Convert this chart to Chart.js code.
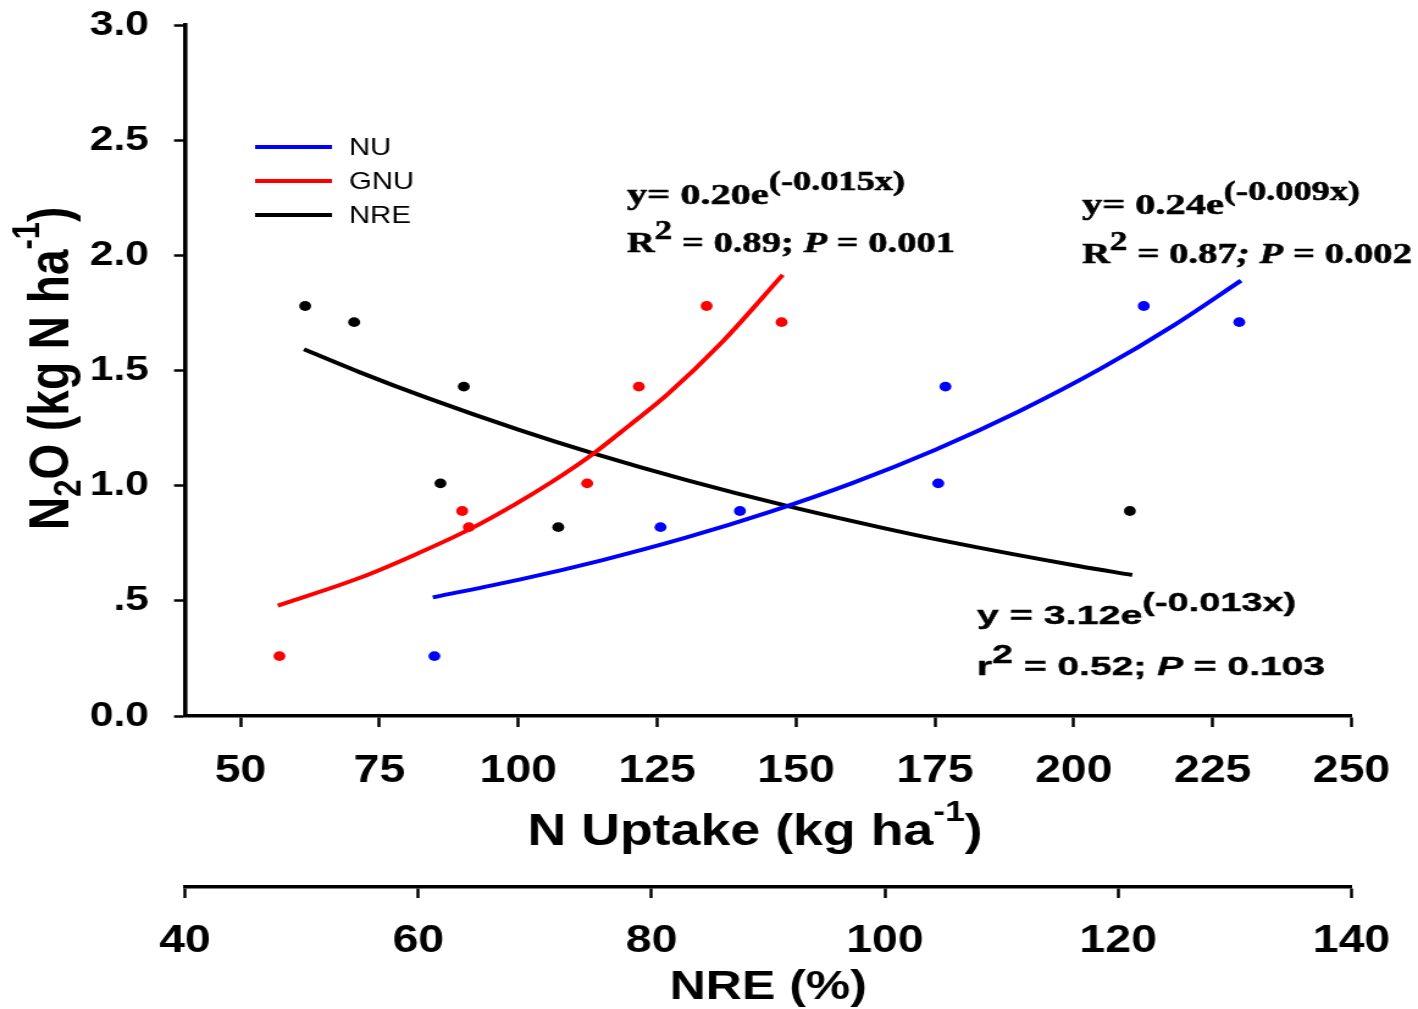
<!DOCTYPE html>
<html>
<head>
<meta charset="utf-8">
<script src="https://cdn.jsdelivr.net/npm/chart.js@4.4.1/dist/chart.umd.min.js"></script>
<style>
  html, body { margin: 0; padding: 0; background: #fff; overflow: hidden; }
  /* the figure is laid out on a narrower canvas and widened horizontally */
  #wrap { position: absolute; left: 0; top: 0; width: 1162px; height: 1009px;
          transform: scaleX(1.22031); transform-origin: 0 0; }
</style>
</head>
<body>
<div id="wrap"><canvas id="c"></canvas></div>
<script>
// ---- axis ticks ----
const nuTicks = [50, 75, 100, 125, 150, 175, 200, 225, 250];
const nreTicks = [40, 60, 80, 100, 120, 140];
const yTicks = [0, 0.5, 1.0, 1.5, 2.0, 2.5, 3.0];
const yTickLabels = ['0.0', '.5', '1.0', '1.5', '2.0', '2.5', '3.0'];

// ---- observations: N uptake (kg ha-1), grain N uptake, NRE (%) vs N2O ----
const nuUptake = [84.9, 125.6, 139.9, 175.6, 176.9, 212.6, 229.8];
const nuN2O    = [0.26, 0.82, 0.89, 1.01, 1.43, 1.78, 1.71];
const gnuUptake = [57.0, 91.1, 89.9, 112.4, 121.7, 133.9, 147.4];
const gnuN2O    = [0.26, 0.82, 0.89, 1.01, 1.43, 1.78, 1.71];
const nreValues = [50.3, 54.5, 63.9, 61.9, 72.0, 121.0];
const nreN2O    = [1.78, 1.71, 1.43, 1.01, 0.82, 0.89];

// ---- fitted exponential curves ----
const nuFitX = [84.6, 100, 115, 130, 145, 160, 175, 190, 205, 218, 230.1];
const nuFitY = [0.515, 0.591, 0.676, 0.773, 0.884, 1.010, 1.155, 1.321, 1.510, 1.696, 1.890];
const gnuFitX = [56.7, 71.5, 81.0, 91.1, 99.4, 106.0, 113.5, 120.0, 126.7, 136.4, 147.6];
const gnuFitY = [0.479, 0.600, 0.696, 0.809, 0.919, 1.016, 1.139, 1.262, 1.393, 1.616, 1.915];
const nreFitX = [50.2, 55.0, 60.7, 68.7, 75.0, 83.0, 91.6, 99.6, 105.3, 116.7, 121.2];
const nreFitY = [1.592, 1.492, 1.382, 1.241, 1.140, 1.024, 0.912, 0.819, 0.758, 0.650, 0.612];

const seriesNames = ['NU', 'GNU', 'NRE'];
const seriesColors = ['#0000ff', '#ff0000', '#000000'];

const SX = 1418 / 1162;          // horizontal widening of the canvas
const cx = v => v / SX;          // page x -> canvas x

const pts = (xs, ys) => xs.map((x, i) => ({ x, y: ys[i] }));

const SANS = '"Liberation Sans", Arial, Helvetica, sans-serif';
const SERIF = '"Liberation Serif", "Times New Roman", serif';

// draw a run of text pieces (super/subscripts via dy), optionally fitted to a width
function drawRuns(ctx, runs, x, y, width, align, weight) {
  let nat = 0;
  for (const r of runs) { ctx.font = r.font; nat += ctx.measureText(r.t).width; }
  const k = width ? width / nat : 1;
  ctx.save();
  ctx.translate(align === 'center' ? x - nat * k / 2 : x, y);
  ctx.scale(k, 1);
  let p = 0;
  for (const r of runs) {
    ctx.font = r.font;
    ctx.fillText(r.t, p, r.dy || 0);
    if (weight) {
      ctx.lineWidth = weight;
      ctx.strokeStyle = ctx.fillStyle;
      ctx.strokeText(r.t, p, r.dy || 0);
    }
    p += ctx.measureText(r.t).width;
  }
  ctx.restore();
}

const annotations = {
  id: 'annotations',
  afterDraw(chart) {
    const ctx = chart.ctx;
    ctx.save();
    ctx.fillStyle = '#000';
    ctx.textBaseline = 'alphabetic';
    ctx.textAlign = 'left';
    ctx.lineJoin = 'round';

    // y-axis title, rotated
    ctx.save();
    ctx.translate(cx(68), 530);
    ctx.rotate(-Math.PI / 2);
    drawRuns(ctx, [
      { t: 'N', font: `bold 46px ${SANS}` },
      { t: '2', font: `bold 31px ${SANS}`, dy: 10 },
      { t: 'O (kg N ha', font: `bold 46px ${SANS}` },
      { t: '-1', font: `bold 31px ${SANS}`, dy: -24 },
      { t: ')', font: `bold 46px ${SANS}` }
    ], 0, 0, 0);
    ctx.restore();

    // N uptake axis title
    drawRuns(ctx, [
      { t: 'N Uptake (kg ha', font: `bold 44px ${SANS}` },
      { t: '-1', font: `bold 29px ${SANS}`, dy: -24 },
      { t: ')', font: `bold 44px ${SANS}` }
    ], cx(755), 845, 0, 'center');

    // legend
    chart.data.datasets.filter(d => d.isFit).forEach((d, i) => {
      const y = 147 + i * 34;
      ctx.strokeStyle = d.borderColor;
      ctx.lineWidth = 4;
      ctx.beginPath();
      ctx.moveTo(cx(255), y);
      ctx.lineTo(cx(332), y);
      ctx.stroke();
      ctx.font = `24px ${SANS}`;
      ctx.textBaseline = 'middle';
      ctx.fillText(d.label, cx(349), y + 1);
      ctx.textBaseline = 'alphabetic';
    });

    // regression equations
    const s30 = `bold 30px ${SERIF}`, s27 = `bold 27px ${SERIF}`, si30 = `italic bold 30px ${SERIF}`;
    drawRuns(ctx, [{ t: 'y= 0.20e', font: s30 }, { t: '(-0.015x)', font: s27, dy: -14 }],
      cx(627), 204, cx(905) - cx(627), null, 0.6);
    drawRuns(ctx, [{ t: 'R', font: s30 }, { t: '2', font: s27, dy: -13 }, { t: ' = 0.89; ', font: s30 },
      { t: 'P', font: si30 }, { t: ' = 0.001', font: s30 }],
      cx(627), 252, cx(955) - cx(627), null, 0.6);

    drawRuns(ctx, [{ t: 'y= 0.24e', font: s30 }, { t: '(-0.009x)', font: s27, dy: -14 }],
      cx(1082), 214, cx(1360) - cx(1082), null, 0.6);
    drawRuns(ctx, [{ t: 'R', font: s30 }, { t: '2', font: s27, dy: -13 }, { t: ' = 0.87', font: s30 },
      { t: '; P', font: si30 }, { t: ' = 0.002', font: s30 }],
      cx(1082), 263, cx(1412) - cx(1082), null, 0.6);

    const a26 = `bold 26px ${SANS}`, a25 = `bold 25px ${SANS}`, ai26 = `italic bold 26px ${SANS}`;
    drawRuns(ctx, [{ t: 'y = 3.12e', font: a26 }, { t: '(-0.013x)', font: a25, dy: -13 }],
      cx(977), 624, cx(1296) - cx(977), null, 0.4);
    drawRuns(ctx, [{ t: 'r', font: a26 }, { t: '2', font: a25, dy: -12 }, { t: ' = 0.52; ', font: a26 },
      { t: 'P', font: ai26 }, { t: ' = 0.103', font: a26 }],
      cx(977), 675, cx(1325) - cx(977), null, 0.4);

    ctx.restore();
  }
};

const pointSet = (label, xs, ys, color, axis) => ({
  type: 'scatter', label, data: pts(xs, ys), xAxisID: axis,
  backgroundColor: color, borderColor: color, borderWidth: 0,
  pointRadius: 4.9, pointHoverRadius: 4.9, showLine: false
});
const fitSet = (label, xs, ys, color, axis) => ({
  type: 'line', label, isFit: true, data: pts(xs, ys), xAxisID: axis,
  borderColor: color, backgroundColor: color, borderWidth: 4,
  pointRadius: 0, fill: false, cubicInterpolationMode: 'monotone'
});

const tickFont = { family: SANS, weight: 'bold', size: 38 };

new Chart(document.getElementById('c'), {
  type: 'scatter',
  data: {
    datasets: [
      pointSet('NU observed', nuUptake, nuN2O, seriesColors[0], 'x'),
      pointSet('GNU observed', gnuUptake, gnuN2O, seriesColors[1], 'x'),
      pointSet('NRE observed', nreValues, nreN2O, seriesColors[2], 'x2'),
      fitSet(seriesNames[0], nuFitX, nuFitY, seriesColors[0], 'x'),
      fitSet(seriesNames[1], gnuFitX, gnuFitY, seriesColors[1], 'x'),
      fitSet(seriesNames[2], nreFitX, nreFitY, seriesColors[2], 'x2')
    ]
  },
  options: {
    responsive: true,
    maintainAspectRatio: false,
    animation: false,
    events: [],
    layout: { padding: { top: 25, right: 54.5, bottom: 0, left: 0 } },
    plugins: { legend: { display: false }, tooltip: { enabled: false } },
    scales: {
      x: {
        type: 'linear', position: 'bottom', weight: 0, min: 40, max: 250,
        afterBuildTicks: s => { s.ticks = nuTicks.map(v => ({ value: v })); },
        afterFit: s => { s.height = 171; },
        border: { display: true, color: '#000', width: 3.5 },
        grid: { display: true, drawOnChartArea: false, drawTicks: true, tickLength: 11,
                tickWidth: 2.5, tickColor: '#000', color: '#000' },
        ticks: { font: tickFont, color: '#000', padding: 22, maxRotation: 0, autoSkip: false,
                 callback: v => String(v) }
      },
      x2: {
        type: 'linear', position: 'bottom', weight: 1, min: 40, max: 140,
        afterBuildTicks: s => { s.ticks = nreTicks.map(v => ({ value: v })); },
        afterFit: s => { s.height = 122; },
        border: { display: true, color: '#000', width: 3.5 },
        grid: { display: true, drawOnChartArea: false, drawTicks: true, tickLength: 11,
                tickWidth: 2.5, tickColor: '#000', color: '#000' },
        ticks: { font: tickFont, color: '#000', padding: 21, maxRotation: 0, autoSkip: false,
                 callback: v => String(v) },
        title: { display: true, text: 'NRE (%)', color: '#000',
                 font: { family: SANS, weight: 'bold', size: 41 }, padding: { top: 0, bottom: -3 } }
      },
      y: {
        type: 'linear', position: 'left', min: 0, max: 3,
        afterBuildTicks: s => { s.ticks = yTicks.map(v => ({ value: v })); },
        afterFit: s => { s.width = cx(185); s.paddingTop = 0; s.paddingBottom = 0; },
        border: { display: true, color: '#000', width: 3.6 },
        grid: { display: true, drawOnChartArea: false, drawTicks: true, tickLength: cx(11),
                tickWidth: 2.5, tickColor: '#000', color: '#000' },
        ticks: { font: { family: SANS, weight: 'bold', size: 35 }, color: '#000',
                 padding: 20.5, callback: v => yTickLabels[yTicks.indexOf(v)] ?? '' }
      }
    }
  },
  plugins: [annotations]
});
</script>
</body>
</html>
